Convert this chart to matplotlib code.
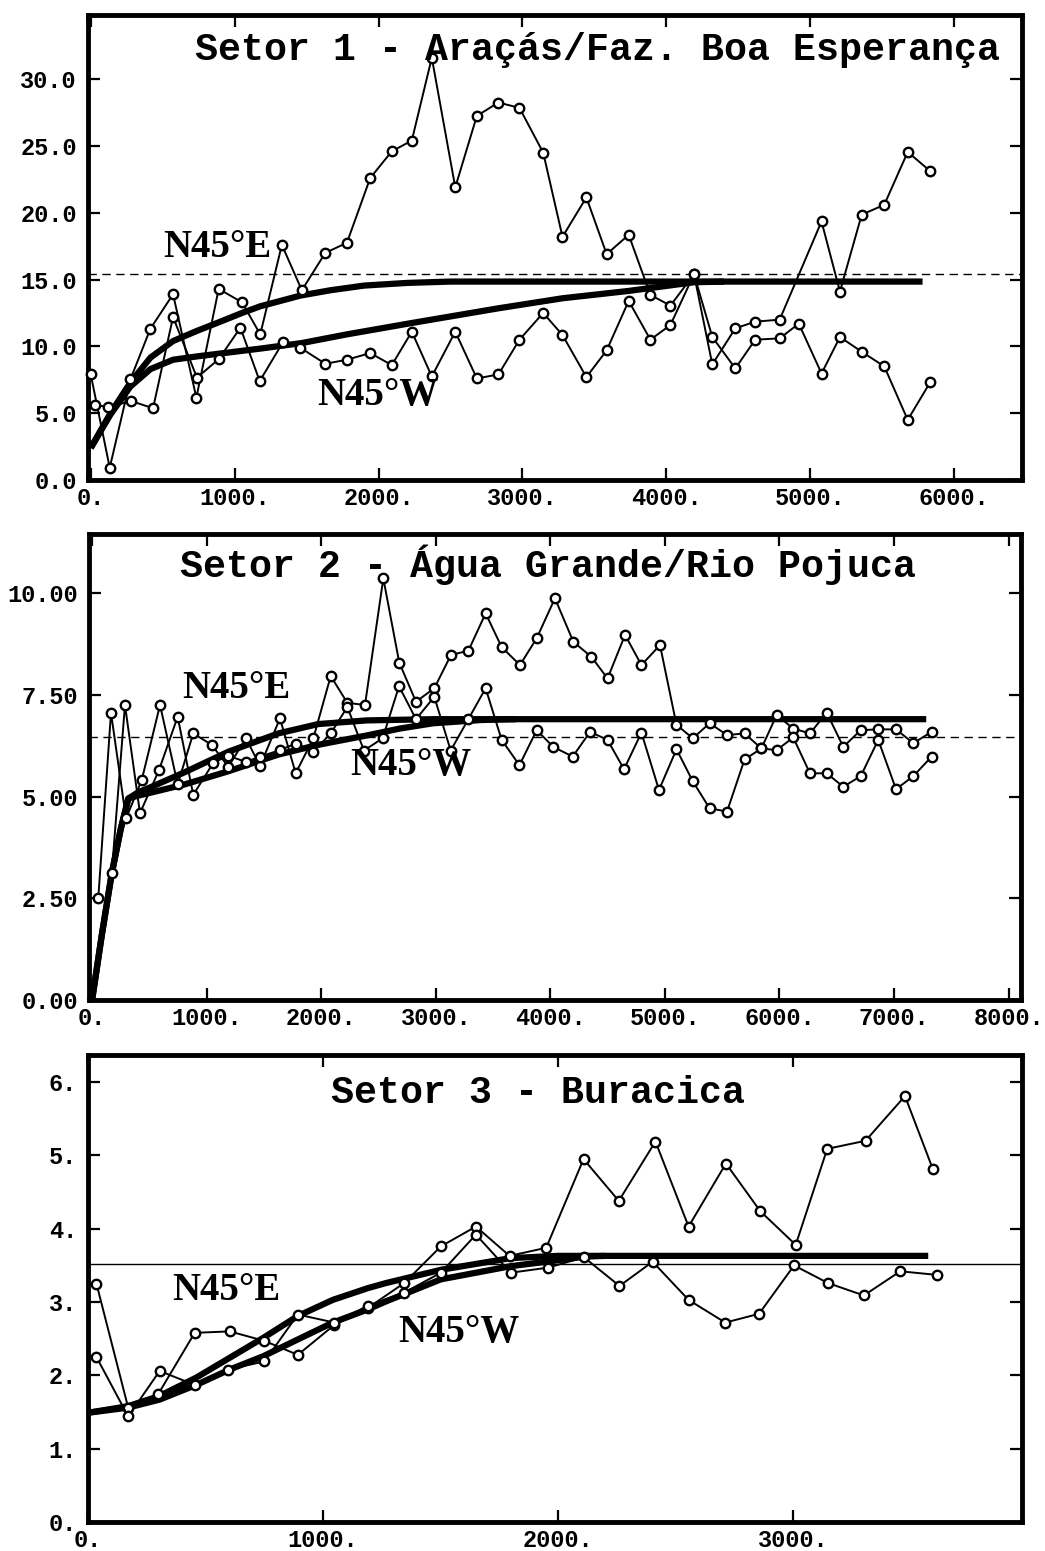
import matplotlib
matplotlib.use("Agg")
import matplotlib.pyplot as plt

W, H, DPI = 1045, 1551, 100
FONT = ['Liberation Mono', 'DejaVu Sans Mono']
FONT_DIR = ['Liberation Serif', 'DejaVu Serif']

# ---------------- Panel 1 : Setor 1 ----------------
s1_title = "Setor 1 - Araçás/Faz. Boa Esperança"
s1_e_x = [0, 132, 276, 415, 572, 734, 889, 1051, 1178, 1328, 1467, 1630, 1780, 1942, 2092,
          2231, 2370, 2533, 2683, 2833, 2979, 3144, 3278, 3444, 3585, 3738, 3889, 4028, 4192,
          4319, 4479, 4617, 4787, 5078, 5206, 5357, 5514, 5677, 5835]
s1_e_y = [7.9, 0.92, 7.54, 11.33, 13.9, 6.16, 14.3, 13.3, 10.9, 17.6, 14.2, 17.0, 17.75, 22.6, 24.6,
          25.4, 31.6, 21.9, 27.25, 28.25, 27.85, 24.5, 18.2, 21.15, 16.9, 18.35, 13.85, 13.05, 15.4,
          8.65, 11.35, 11.85, 12.0, 19.35, 14.1, 19.85, 20.6, 24.55, 23.1]
s1_w_x = [33, 118, 283, 433, 572, 738, 889, 1040, 1174, 1335, 1456, 1630, 1780, 1942, 2092,
          2231, 2370, 2533, 2683, 2833, 2979, 3144, 3278, 3444, 3585, 3738, 3889, 4028, 4192,
          4319, 4479, 4617, 4787, 4920, 5078, 5206, 5357, 5514, 5677, 5835]
s1_w_y = [5.6, 5.47, 5.9, 5.37, 12.2, 7.66, 9.04, 11.4, 7.4, 10.3, 9.9, 8.7, 9.0, 9.5, 8.6,
          11.1, 7.75, 11.1, 7.6, 7.9, 10.5, 12.5, 10.85, 7.7, 9.7, 13.4, 10.5, 11.6, 15.4,
          10.7, 8.35, 10.5, 10.6, 11.7, 7.97, 10.7, 9.6, 8.5, 4.5, 7.35]
s1_me_x = [0, 137, 276, 415, 572, 738, 889, 1051, 1178, 1456, 1665, 1900, 2200, 2500, 5780]
s1_me_y = [2.4, 5.0, 7.3, 9.16, 10.4, 11.16, 11.8, 12.5, 13.0, 13.8, 14.2, 14.55, 14.75, 14.85, 14.85]
s1_mw_x = [0, 137, 276, 415, 572, 738, 889, 1190, 1467, 1780, 2231, 2833, 3278, 3738, 4192, 4400]
s1_mw_y = [2.4, 4.9, 7.0, 8.3, 9.0, 9.25, 9.45, 9.85, 10.25, 10.9, 11.75, 12.85, 13.6, 14.15, 14.8, 14.85]
s1_ref = 15.4
s1_xticks = [0, 1000, 2000, 3000, 4000, 5000, 6000]
s1_yticks = [0, 5, 10, 15, 20, 25, 30]
s1_xlabels = ["0.", "1000.", "2000.", "3000.", "4000.", "5000.", "6000."]
s1_ylabels = ["0.0", "5.0", "10.0", "15.0", "20.0", "25.0", "30.0"]

# ---------------- Panel 2 : Setor 2 ----------------
s2_title = "Setor 2 - Água Grande/Rio Pojuca"
s2_e_x = [54, 165, 296, 433, 593, 747, 883, 1044, 1189, 1343, 1466, 1640, 1777, 1931, 2083,
          2228, 2382, 2542, 2681, 2827, 2987, 3133, 3284, 3435, 3575, 3735, 3881, 4040, 4201,
          4359, 4499, 4652, 4795, 4957, 5101, 5244, 5390, 5542, 5695, 5842, 5975, 6120, 6266,
          6412, 6557, 6709, 6862, 7017, 7168, 7328]
s2_e_y = [2.5, 7.06, 4.46, 5.4, 7.25, 5.3, 6.55, 6.27, 5.73, 6.43, 5.75, 6.92, 5.57, 6.43, 7.96,
          7.3, 7.25, 10.36, 8.29, 7.33, 7.66, 8.48, 8.58, 9.5, 8.67, 8.23, 8.89, 9.87, 8.8,
          8.43, 7.9, 8.97, 8.23, 8.72, 6.76, 6.43, 6.8, 6.51, 6.55, 6.18, 7.0, 6.67, 6.55,
          7.06, 6.22, 6.63, 6.65, 6.65, 6.31, 6.59]
s2_w_x = [171, 287, 418, 584, 747, 883, 1058, 1189, 1343, 1466, 1640, 1777, 1931, 2083, 2228,
          2373, 2536, 2679, 2827, 2987, 3130, 3284, 3435, 3575, 3730, 3881, 4025, 4195, 4347,
          4499, 4643, 4795, 4948, 5101, 5244, 5390, 5542, 5695, 5842, 5975, 6120, 6266, 6412,
          6557, 6709, 6862, 7017, 7168, 7328]
s2_w_y = [3.11, 7.25, 4.59, 5.65, 6.96, 5.04, 5.83, 6.0, 5.85, 5.98, 6.14, 6.3, 6.1, 6.55, 7.2,
          6.13, 6.43, 7.71, 6.9, 7.45, 6.13, 6.9, 7.66, 6.39, 5.77, 6.63, 6.22, 5.98, 6.59,
          6.39, 5.67, 6.57, 5.16, 6.16, 5.37, 4.71, 4.63, 5.91, 6.18, 6.14, 6.45, 5.57, 5.57,
          5.24, 5.5, 6.39, 5.18, 5.5, 5.98]
s2_me_x = [0, 85, 171, 250, 316, 400, 520, 811, 1189, 1625, 1974, 2397, 2978, 7281]
s2_me_y = [0.0, 1.6, 3.1, 4.2, 4.95, 5.1, 5.24, 5.6, 6.1, 6.55, 6.78, 6.87, 6.9, 6.9]
s2_mw_x = [0, 85, 171, 250, 316, 400, 520, 811, 1189, 1625, 1974, 2397, 2687, 2978, 3400, 3700]
s2_mw_y = [0.0, 1.6, 3.1, 4.2, 4.95, 5.02, 5.1, 5.3, 5.62, 6.03, 6.27, 6.5, 6.67, 6.8, 6.88, 6.9]
s2_ref = 6.47
s2_xticks = [0, 1000, 2000, 3000, 4000, 5000, 6000, 7000, 8000]
s2_yticks = [0, 2.5, 5.0, 7.5, 10.0]
s2_xlabels = ["0.", "1000.", "2000.", "3000.", "4000.", "5000.", "6000.", "7000.", "8000."]
s2_ylabels = ["0.00", "2.50", "5.00", "7.50", "10.00"]

# ---------------- Panel 3 : Setor 3 ----------------
s3_title = "Setor 3 - Buracica"
s3_e_x = [36, 171, 298, 454, 603, 751, 893, 1049, 1191, 1346, 1502, 1651, 1794, 1950, 2109,
          2259, 2415, 2556, 2715, 2861, 3012, 3146, 3309, 3477, 3596]
s3_e_y = [3.25, 1.56, 1.74, 2.58, 2.6, 2.47, 2.28, 2.69, 2.92, 3.26, 3.76, 4.03, 3.63, 3.74, 4.95,
          4.38, 5.19, 4.03, 4.89, 4.24, 3.78, 5.09, 5.2, 5.81, 4.81]
s3_w_x = [36, 171, 305, 454, 596, 751, 893, 1049, 1191, 1346, 1502, 1651, 1799, 1958, 2111,
          2262, 2403, 2556, 2712, 2856, 3005, 3149, 3302, 3457, 3614]
s3_w_y = [2.25, 1.44, 2.06, 1.87, 2.08, 2.19, 2.83, 2.72, 2.95, 3.13, 3.4, 3.92, 3.4, 3.47, 3.61,
          3.22, 3.55, 3.03, 2.72, 2.84, 3.5, 3.26, 3.09, 3.42, 3.37]
s3_me_x = [0, 171, 305, 461, 603, 745, 893, 1042, 1191, 1269, 1502, 1800, 2000, 3576]
s3_me_y = [1.49, 1.58, 1.72, 1.97, 2.24, 2.51, 2.81, 3.03, 3.19, 3.26, 3.44, 3.6, 3.63, 3.63]
s3_mw_x = [0, 171, 305, 461, 603, 745, 893, 1042, 1191, 1269, 1502, 1800, 2000, 2114, 2200]
s3_mw_y = [1.49, 1.56, 1.67, 1.87, 2.08, 2.26, 2.49, 2.72, 2.9, 3.01, 3.31, 3.49, 3.57, 3.62, 3.63]
s3_ref = 3.52
s3_xticks = [0, 1000, 2000, 3000]
s3_yticks = [0, 1, 2, 3, 4, 5, 6]
s3_xlabels = ["0.", "1000.", "2000.", "3000."]
s3_ylabels = ["0.", "1.", "2.", "3.", "4.", "5.", "6."]

dir_e = "N45°E"
dir_w = "N45°W"

fig = plt.figure(figsize=(W / DPI, H / DPI), dpi=DPI)
fig.patch.set_facecolor("white")


def add_ax(left, top, right, bottom):
    return fig.add_axes([left / W, 1 - bottom / H, (right - left) / W, (bottom - top) / H])


def style(ax, xlim, ylim, xt, xl, yt, yl):
    ax.set_xlim(*xlim)
    ax.set_ylim(*ylim)
    ax.set_xticks(xt, xl)
    ax.set_yticks(yt, yl)
    for s in ax.spines.values():
        s.set_linewidth(3.5)
        s.set_color("black")
    ax.tick_params(direction="in", length=8.5, width=1.6, top=True, right=True,
                   colors="black")
    ax.tick_params(axis="y", pad=8)
    ax.tick_params(axis="x", pad=5)
    for lab in ax.get_xticklabels() + ax.get_yticklabels():
        lab.set_family(FONT)
        lab.set_fontweight("bold")
        lab.set_fontsize(17)
    ax.patch.set_facecolor("white")


def draw(ax, ex, ey, wx, wy, mex, mey, mwx, mwy, ref, ref_style):
    ax.axhline(ref, color="black", lw=1.0, ls=ref_style, zorder=1)
    ax.plot(mex, mey, color="black", lw=4.5, solid_capstyle="butt", zorder=2)
    ax.plot(mwx, mwy, color="black", lw=4.5, solid_capstyle="butt", zorder=2)
    for xs, ys in ((ex, ey), (wx, wy)):
        ax.plot(xs, ys, color="black", lw=1.4, marker="o", ms=6.8, mew=1.7,
                mfc="white", mec="black", zorder=3, clip_on=False)


def label(text, X, Yb, size=27.5, family=FONT):
    fig.text(X / W, 1 - Yb / H, text, family=family, fontweight="bold", fontsize=size,
             ha="left", va="baseline", color="black")


# Panel 1
ax1 = add_ax(88, 15, 1022, 480)
draw(ax1, s1_e_x, s1_e_y, s1_w_x, s1_w_y, s1_me_x, s1_me_y, s1_mw_x, s1_mw_y,
     s1_ref, (0, (6, 4)))
style(ax1, (-19, 6471), (0, 34.8), s1_xticks, s1_xlabels, s1_yticks, s1_ylabels)
label(s1_title, 195, 60)
label(dir_e, 163, 257, 28, FONT_DIR)
label(dir_w, 317, 405, 28, FONT_DIR)

# Panel 2
ax2 = add_ax(89, 534, 1021, 1000)
draw(ax2, s2_e_x, s2_e_y, s2_w_x, s2_w_y, s2_me_x, s2_me_y, s2_mw_x, s2_mw_y,
     s2_ref, (0, (6, 4)))
style(ax2, (-27, 8108), (0, 11.45), s2_xticks, s2_xlabels, s2_yticks, s2_ylabels)
label(s2_title, 180, 577)
label(dir_e, 182, 698, 28, FONT_DIR)
label(dir_w, 350, 775, 28, FONT_DIR)

# Panel 3
ax3 = add_ax(88, 1055, 1022, 1522)
draw(ax3, s3_e_x, s3_e_y, s3_w_x, s3_w_y, s3_me_x, s3_me_y, s3_mw_x, s3_mw_y,
     s3_ref, "-")
style(ax3, (0, 3975), (0, 6.37), s3_xticks, s3_xlabels, s3_yticks, s3_ylabels)
label(s3_title, 331, 1103)
label(dir_e, 172, 1300, 28, FONT_DIR)
label(dir_w, 398, 1342, 28, FONT_DIR)

fig.savefig("out.png", dpi=DPI, facecolor="white")
